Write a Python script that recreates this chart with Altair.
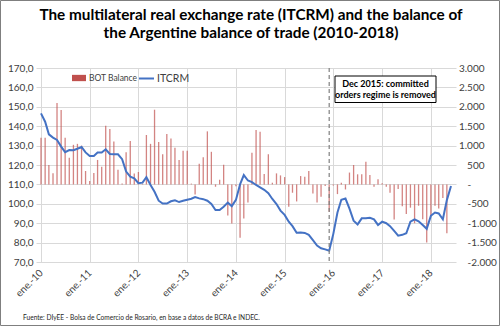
import altair as alt
import pandas as pd

# ---------------- data ----------------
months = pd.date_range("2010-01-01", periods=102, freq="MS")

# BOT Balance (millions US$), Jan-2010 .. May-2018
bot = [1200, 1200, 500, 290, 2100, 1920, 1200, 690, 1020, 1045, 1000, 345,      # 2010
       90, 295, 630, 456, 1510, 1430, 1105, 375, 20, 826, 1118, 284,            # 2011
       320, 20, 1273, 1045, 1925, 1092, 780, 1300, 1180, 946, 628, 869,         # 2012
       869, 20, -260, 530, 697, 1367, 840, -60, 120, 505, -800, -1005,          # 2013
       -50, -1373, -880, -465, 817, 1402, 1359, 267, 774, 43, 284, 232,         # 2014
       189, -576, -215, -439, 215, 198, 344, -232, -464, -318, -43, -705,       # 2015
       -30, -250, 44, -130, 305, 500, 260, 260, 585, 240, -60, 130,             # 2016
       30, -60, -215, -905, -120, -560, -760, -600, -1000, -550, -900, -1500,   # 2017
       -800, -550, -620, -350, -1260]                                            # 2018

# ITCRM, Jan-2010 .. Jun-2018
itcrm = [146.6, 142.3, 135.8, 134.1, 132.9, 129.5, 126.6, 127.7, 127.6, 128.4, 129.3, 126.5,
         124.6, 124.6, 126.4, 126.4, 128.1, 125.7, 125.5, 125.5, 123.0, 116.6, 114.0, 113.1,
         110.6, 110.9, 113.7, 109.7, 106.2, 101.6, 100.1, 100.1, 101.3, 101.8, 100.9, 101.6,
         102.1, 102.6, 103.5, 102.8, 102.4, 101.6, 99.9, 96.8, 96.8, 98.5, 100.6, 98.8,
         102.0, 110.0, 114.8, 112.0, 111.2, 109.7, 108.5, 107.2, 105.5, 102.5, 99.9, 96.5,
         94.3, 90.8, 88.5, 85.1, 85.2, 85.0, 84.0, 81.3, 78.5, 77.1, 76.5, 75.8,
         84.5, 95.5, 102.1, 102.7, 97.5, 91.3, 89.4, 92.5, 92.5, 92.8, 92.0, 89.1,
         90.8, 90.0, 88.5, 86.0, 83.6, 84.0, 84.8, 90.8, 92.0, 91.0, 89.1, 87.1,
         93.8, 95.5, 95.0, 92.0, 101.9, 109.2]

series_names = ["BOT Balance", "ITCRM"]
series_colors = ["#C0504D", "#4472C4"]
left_ticks = list(range(70, 171, 10))
right_ticks = list(range(-2000, 3001, 500))
year_ticks = list(range(2010, 2019))

title_lines = ["The multilateral real exchange rate (ITCRM) and the balance of",
               "the Argentine balance of trade (2010-2018)"]
note_lines = ["Dec 2015: committed", "orders regime is removed"]
note_date = "2015-12-01"
source_text = "Fuente: DIyEE - Bolsa de Comercio de Rosario, en base a datos de BCRA e INDEC."

df_bar = pd.DataFrame({"date": months[:len(bot)], "value": bot, "series": series_names[0]})
df_line = pd.DataFrame({"date": months[:len(itcrm)], "value": itcrm, "series": series_names[1]})

FONT = "Lato"
W, H = 420, 194
GRID = "#D9D9D9"
LABEL = "#404040"

x_enc = alt.X(
    "date:T",
    scale=alt.Scale(domain=[alt.DateTime(year=2010, month=1, date=1),
                            alt.DateTime(year=2018, month=6, date=1)]),
    axis=alt.Axis(
        values=[alt.DateTime(year=y, month=1, date=1) for y in year_ticks],
        labelExpr="'ene.-' + timeFormat(datum.value, '%y')",
        labelAngle=315, labelAlign="right", labelBaseline="middle",
        labelPadding=9, labelFont=FONT, labelFontSize=10, labelColor=LABEL,
        domain=False, ticks=False, grid=True, gridColor=GRID,
        labelOverlap=False, title=None,
    ),
)

bars = alt.Chart(df_bar).mark_bar(size=1.3, opacity=0.7).encode(
    x=x_enc,
    y=alt.Y("value:Q",
            scale=alt.Scale(domain=[-2000, 3000], nice=False),
            axis=alt.Axis(
                orient="right", values=right_ticks,
                labelExpr="datum.value == 0 ? '-' : (datum.value < 0 ? '-' : '') + replace(format(abs(datum.value), ',d'), ',', '.')",
                labelAlign={"condition": {"test": "datum.value <= 0", "value": "left"}, "value": "right"},
                labelPadding={"condition": {"test": "datum.value <= 0", "value": 11}, "value": 28},
                labelFont=FONT, labelFontSize=10, labelColor=LABEL,
                domain=False, ticks=False, grid=False, title=None,
            )),
    fill=alt.Fill("series:N",
                  scale=alt.Scale(domain=[series_names[0]], range=[series_colors[0]]),
                  legend=alt.Legend(title=None, orient="none", legendX=36, legendY=3,
                                    symbolType="M-1,-0.45H1V0.45H-1Z", symbolSize=196,
                                    symbolStrokeWidth=0, symbolOpacity=1, labelFont=FONT,
                                    labelFontSize=8.5, labelColor=LABEL, labelOffset=3, padding=0)),
)

line = alt.Chart(df_line).mark_line(strokeWidth=2).encode(
    x=x_enc,
    y=alt.Y("value:Q",
            scale=alt.Scale(domain=[70, 170], nice=False, zero=False),
            axis=alt.Axis(
                orient="left", values=left_ticks,
                labelExpr="replace(format(datum.value, '.1f'), '.', ',')",
                labelFont=FONT, labelFontSize=10, labelColor=LABEL, labelPadding=3,
                domain=False, ticks=False, grid=True, gridColor=GRID, title=None,
            )),
    stroke=alt.Stroke("series:N",
                      scale=alt.Scale(domain=[series_names[1]], range=[series_colors[1]]),
                      legend=alt.Legend(title=None, orient="none", legendX=102, legendY=2,
                                        symbolType="stroke", symbolSize=225,
                                        symbolStrokeWidth=2, labelFont=FONT, labelFontSize=10.5,
                                        labelColor=LABEL, labelOffset=2, padding=0)),
)

rule = alt.Chart(pd.DataFrame({"date": [note_date]})).mark_rule(
    color="#7F7F7F", strokeDash=[4, 3], strokeWidth=1.2
).encode(x=alt.X("date:T"), y=alt.value(0), y2=alt.value(H))

box = alt.Chart(pd.DataFrame({"k": [0]})).mark_rect(
    fill="white", stroke="black", strokeWidth=1
).encode(x=alt.value(299), x2=alt.value(400), y=alt.value(8), y2=alt.value(34.5))


def text_layer(txt, x, y, **kw):
    return alt.Chart(pd.DataFrame({"t": [txt]})).mark_text(font=FONT, baseline="middle", **kw).encode(
        x=alt.value(x), y=alt.value(y), text="t:N")


note1 = text_layer(note_lines[0], 349.5, 16.3, fontSize=9, fontWeight="bold", color="black", align="center")
note2 = text_layer(note_lines[1], 349.5, 27, fontSize=9, fontWeight="bold", color="black", align="center")
title1 = text_layer(title_lines[0], 215, -53, fontSize=15.3, fontWeight="bold", color="black", align="center")
title2 = text_layer(title_lines[1], 215, -34.6, fontSize=15.3, fontWeight="bold", color="black", align="center")
source = text_layer(source_text, -13, 250.3, fontSize=6.6, color="#262626", align="left")

frame = alt.Chart(pd.DataFrame({"k": [0]})).mark_rect(
    fill="white", fillOpacity=0, stroke="#7F7F7F", strokeWidth=1
).encode(x=alt.value(-35.5), x2=alt.value(463.5), y=alt.value(-67.5), y2=alt.value(257.5))

chart = alt.layer(bars, line, rule, box, note1, note2, title1, title2, source, frame).resolve_scale(
    y="independent"
).properties(
    width=W, height=H,
    padding={"left": 36, "top": 68, "right": 44, "bottom": 64},
    autosize=alt.AutoSizeParams(type="none"),
    background="white",
).configure_view(stroke=None)

chart.save("out.html", embed_options={"renderer": "svg", "actions": False})
